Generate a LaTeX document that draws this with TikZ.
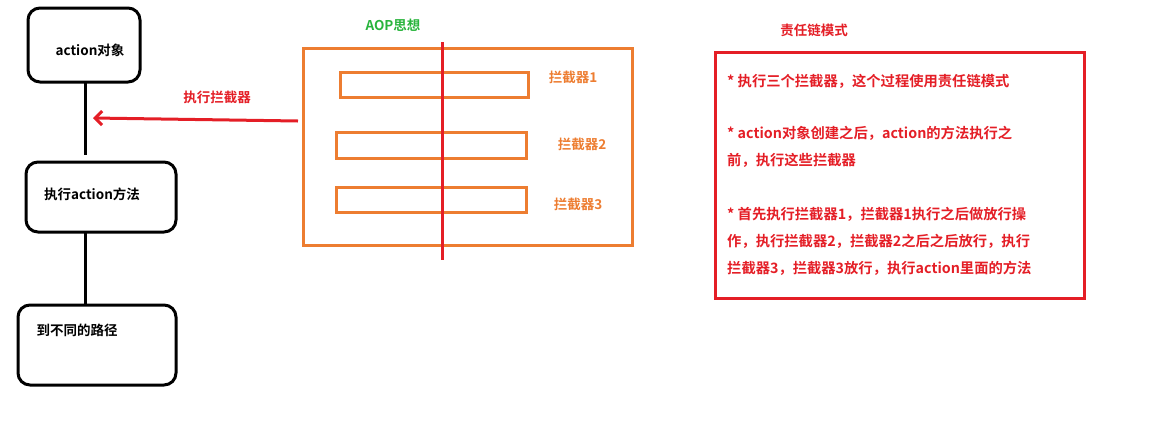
\documentclass[tikz,border=0pt]{standalone}
\usepackage{fontspec}
\setmainfont{Noto Sans CJK SC}[BoldFont={Noto Sans CJK SC Bold}]
\usetikzlibrary{arrows.meta}
\definecolor{aorange}{RGB}{237,125,49}
\definecolor{ared}{RGB}{228,30,38}
\definecolor{agreen}{RGB}{40,180,60}
\tikzset{
 flow/.style={draw=black,line width=3pt,rounded corners=12pt},
 lbl/.style={font=\bfseries\fontsize{13.5}{16}\selectfont,inner sep=0pt},
 bar/.style={draw=aorange,line width=3pt},
 txt/.style={lbl,font=\bfseries\fontsize{14.3}{16}\selectfont,text=ared,anchor=west}
}
\begin{document}
\begin{tikzpicture}[x=1pt,y=-1pt]
\useasboundingbox (0,0) rectangle (1154,421);
\draw[flow] (28,8) rectangle (140,82);
\node[lbl] (a) at (90,50) {action对象};
\draw[flow] (26,162) rectangle (176,232);
\node[lbl] (b) at (92,194) {执行action方法};
\draw[flow] (18,305) rectangle (176,385);
\node[lbl] (c) at (77,330) {到不同的路径};
\coordinate (a1) at (85,82); \coordinate (b0) at (85,162);
\coordinate (b1) at (85,232); \coordinate (c0) at (85,305);
\draw[line width=3pt] (a1) -- (85,155);
\draw[line width=3pt] (b1) -- (c0);
\coordinate (s) at (298,121); \coordinate (t) at (93,118);
\draw[ared,line width=3pt,-{Straight Barb[length=7pt,width=14pt]}] (s) -- (t);
\node[lbl,text=ared] (l) at (217,97) {执行拦截器};
\node[lbl,text=agreen] (aop) at (393,25) {AOP思想};
\draw[draw=aorange,line width=3pt] (303,48) rectangle (632,245);
\draw[bar] (340,72) rectangle (528,97);
\draw[bar] (336,132) rectangle (526,158);
\draw[bar] (336,187) rectangle (526,212);
\draw[ared,line width=3pt] (442,42) -- (442,260);
\node[lbl,text=aorange] (i1) at (573,77) {拦截器1};
\node[lbl,text=aorange] (i2) at (582,144) {拦截器2};
\node[lbl,text=aorange] (i3) at (578,204) {拦截器3};
\node[lbl,text=ared] (z) at (814,30) {责任链模式};
\draw[ared,line width=3pt] (715,52) rectangle (1084,298);
\node[txt] at (727,81) {* 执行三个拦截器，这个过程使用责任链模式};
\node[txt] at (727,133) {* action对象创建之后，action的方法执行之};
\node[txt] at (727,160) {前，执行这些拦截器};
\node[txt] at (727,214) {* 首先执行拦截器1，拦截器1执行之后做放行操};
\node[txt] at (727,241) {作，执行拦截器2，拦截器2之后之后放行，执行};
\node[txt] at (727,268) {拦截器3，拦截器3放行，执行action里面的方法};
\end{tikzpicture}
\end{document}
